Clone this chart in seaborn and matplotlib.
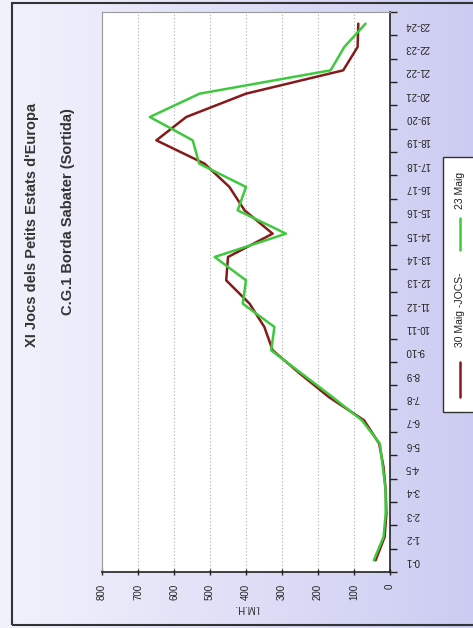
import numpy as np
import pandas as pd
import matplotlib
matplotlib.use("Agg")
import matplotlib.pyplot as plt
from matplotlib.lines import Line2D
from matplotlib.patches import Rectangle
import seaborn as sns

# ---- data ----
hours = ["0-1", "1-2", "2-3", "3-4", "4-5", "5-6", "6-7", "7-8", "8-9", "9-10",
         "10-11", "11-12", "12-13", "13-14", "14-15", "15-16", "16-17", "17-18",
         "18-19", "19-20", "20-21", "21-22", "22-23", "23-24"]
maig30 = [40, 15, 10, 12, 18, 30, 72, 170, 250, 326, 349, 390,
          455, 450, 326, 404, 446, 515, 649, 566, 400, 130, 90, 88]
maig23 = [45, 18, 12, 12, 20, 28, 78, 160, 245, 330, 321, 409,
          400, 487, 289, 423, 400, 530, 548, 667, 529, 165, 127, 68]
series_names = ["30 Maig -JOCS-", "23 Maig"]
value_ticks = [0, 100, 200, 300, 400, 500, 600, 700, 800]

df = pd.concat([
    pd.DataFrame({"idx": range(len(hours)), "value": maig30, "series": series_names[0]}),
    pd.DataFrame({"idx": range(len(hours)), "value": maig23, "series": series_names[1]}),
])

W, H = 473, 628
sns.set_theme(style="white")
plt.rcParams["font.family"] = ["Liberation Sans", "DejaVu Sans"]

fig = plt.figure(figsize=(W / 100, H / 100), dpi=100)

def fx(x):
    return x / W

def fy(y):
    return 1 - y / H

# background gradient
bg = fig.add_axes([0, 0, 1, 1], zorder=-10)
grad = np.linspace(0, 1, 256)[None, :]
c0 = np.array([0.95, 0.95, 0.99])
c1 = np.array([0.80, 0.80, 0.95])
img = c0[None, None, :] * (1 - grad[..., None]) + c1[None, None, :] * grad[..., None]
bg.imshow(img, aspect="auto", extent=[0, 1, 0, 1])
bg.set_axis_off()

# frame
fig.add_artist(Rectangle((fx(12), fy(625)), fx(480) - fx(12), fy(3) - fy(625),
                         transform=fig.transFigure, fill=False, edgecolor="#333333", lw=1.5))

ax = fig.add_axes([fx(102), fy(572), fx(390) - fx(102), fy(12) - fy(572)])
ax.set_facecolor("white")
palette = {series_names[0]: "#861a1a", series_names[1]: "#3ec93e"}
sns.lineplot(data=df, x="value", y="idx", hue="series", palette=palette,
             orient="y", estimator=None, sort=True, lw=1.8, ax=ax, legend=False)

ax.set_xlim(800, 0)
ax.set_ylim(-0.5, len(hours) - 0.5)
ax.set_xticks(value_ticks)
ax.set_xticklabels([str(v) for v in value_ticks], rotation=90, fontsize=7, color="#222222")
ax.set_yticks(range(len(hours)))
ax.set_yticklabels(hours, rotation=180, fontsize=7, color="#222222")
ax.set_yticks(np.arange(-0.5, len(hours), 1), minor=True)
ax.yaxis.tick_right()
ax.tick_params(axis="y", which="major", length=0, pad=11)
ax.tick_params(axis="y", which="minor", right=True, left=False, length=5, width=1, color="#222222", direction="out")
ax.tick_params(axis="x", which="major", bottom=True, length=5, width=1, color="#222222", direction="inout", pad=6)
ax.set_xlabel("I.M.H.", rotation=180, fontsize=7, labelpad=2)
ax.set_ylabel("")
ax.xaxis.grid(True, linestyle=(0, (1, 2)), color="#aaaaaa", lw=0.8)
ax.yaxis.grid(False)
for side in ["left", "top"]:
    ax.spines[side].set_color("#999999")
    ax.spines[side].set_linewidth(0.8)
for side in ["right", "bottom"]:
    ax.spines[side].set_color("#222222")
    ax.spines[side].set_linewidth(1.2)

# titles
fig.text(fx(32), fy(225), "XI Jocs dels Petits Estats d'Europa", rotation=90,
         ha="center", va="center", fontsize=10.5, fontweight="bold", color="#333333")
fig.text(fx(68), fy(212), "C.G.1 Borda Sabater (Sortida)", rotation=90,
         ha="center", va="center", fontsize=10.5, fontweight="bold", color="#333333")

# legend (rotated)
fig.add_artist(Rectangle((fx(443), fy(412)), fx(490) - fx(443), fy(157) - fy(412),
                         transform=fig.transFigure, facecolor="white", edgecolor="#333333", lw=1))
fig.add_artist(Line2D([fx(460), fx(460)], [fy(397), fy(362)], transform=fig.transFigure,
                      color=palette[series_names[0]], lw=1.8))
fig.text(fx(460), fy(310), series_names[0], rotation=90, ha="center", va="center", fontsize=7.5, color="#222222")
fig.add_artist(Line2D([fx(460), fx(460)], [fy(250), fy(218)], transform=fig.transFigure,
                      color=palette[series_names[1]], lw=1.8))
fig.text(fx(460), fy(190), series_names[1], rotation=90, ha="center", va="center", fontsize=7.5, color="#222222")

fig.savefig("out.png", dpi=100)
